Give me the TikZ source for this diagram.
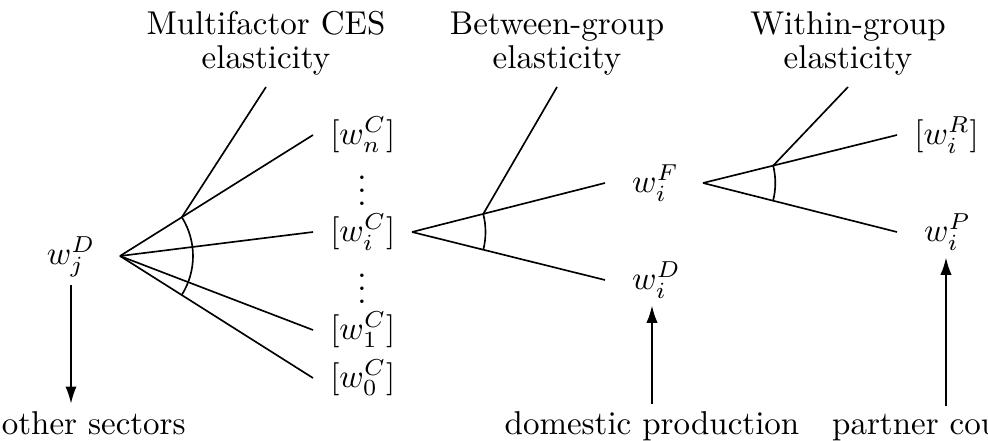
\documentclass[tikz,border=0pt]{standalone}
\usetikzlibrary{calc,arrows.meta}
\begin{document}
\begin{tikzpicture}[x=0.303pt,y=-0.303pt,line width=0.5pt,
  lbl/.style={anchor=west,inner xsep=5pt,inner ysep=2pt},
  lblw/.style={anchor=west,inner xsep=8pt,inner ysep=2pt},
  head/.style={align=center,anchor=south,font=\fontsize{10}{10.3}\selectfont},
  arr/.style={-{Latex[length=5.2pt,width=3.4pt]}}]
\useasboundingbox (0,0) rectangle (988,441);

% ---------- left fan ----------
\coordinate (A1) at (120,256);
\node[lbl] (wn) at (313,135) {$[w_n^C]$};
\node[lbl] (wi) at (313,232) {$[w_i^C]$};
\node[lbl] (w1) at (313,330) {$[w_1^C]$};
\node[lbl] (w0) at (313,378) {$[w_0^C]$};
\node[anchor=base] (d1) at (362,206) {$\vdots$};
\node[anchor=base] (d2) at (362,304) {$\vdots$};
\foreach \n in {wn,wi,w1,w0} \draw (A1) -- (\n.west);
\path (A1) ++(-32.1:73) coordinate (P1);
\draw (P1) arc[start angle=-32.1,end angle=32.3,radius=73];
\node[head] (L1) at (266,87) {Multifactor CES\\elasticity};
\draw (P1) -- (L1.south);

\node[inner sep=2pt] (wjD) at (71,257) {$w_j^D$};
\node[anchor=base west,inner ysep=2pt] (os) at (-10,434) {other sectors};
\draw[arr] (wjD.south) -- (wjD.south |- os.north);

% ---------- middle fan ----------
\coordinate (A2) at (412,232);
\node[lblw] (wF) at (605,183) {$w_i^F$};
\node[lblw] (wD) at (605,280) {$w_i^D$};
\draw (A2) -- (wF.west);
\draw (A2) -- (wD.west);
\path (A2) ++(-14.2:73.5) coordinate (P2);
\draw (P2) arc[start angle=-14.2,end angle=14.0,radius=73.5];
\node[head] (L2) at (557,87) {Between-group\\elasticity};
\draw (P2) -- (L2.south);
\node[anchor=base,inner ysep=2pt] (dp) at (652,434) {domestic production};
\draw[arr] (dp.north) -- (dp.north |- wD.south);

% ---------- right fan ----------
\coordinate (A3) at (703,183);
\node[lbl] (wR) at (897,135) {$[w_i^R]$};
\node[lblw] (wP) at (897,232) {$w_i^P$};
\draw (A3) -- (wR.west);
\draw (A3) -- (wP.west);
\path (A3) ++(-13.9:72.3) coordinate (P3);
\draw (P3) arc[start angle=-13.9,end angle=14.2,radius=72.3];
\node[head] (L3) at (848,87) {Within-group\\elasticity};
\draw (P3) -- (L3.south);
\node[anchor=base,inner ysep=2pt] (pc) at (946,434) {partner country};
\draw[arr] (pc.north) -- (pc.north |- wP.south);
\end{tikzpicture}
\end{document}
